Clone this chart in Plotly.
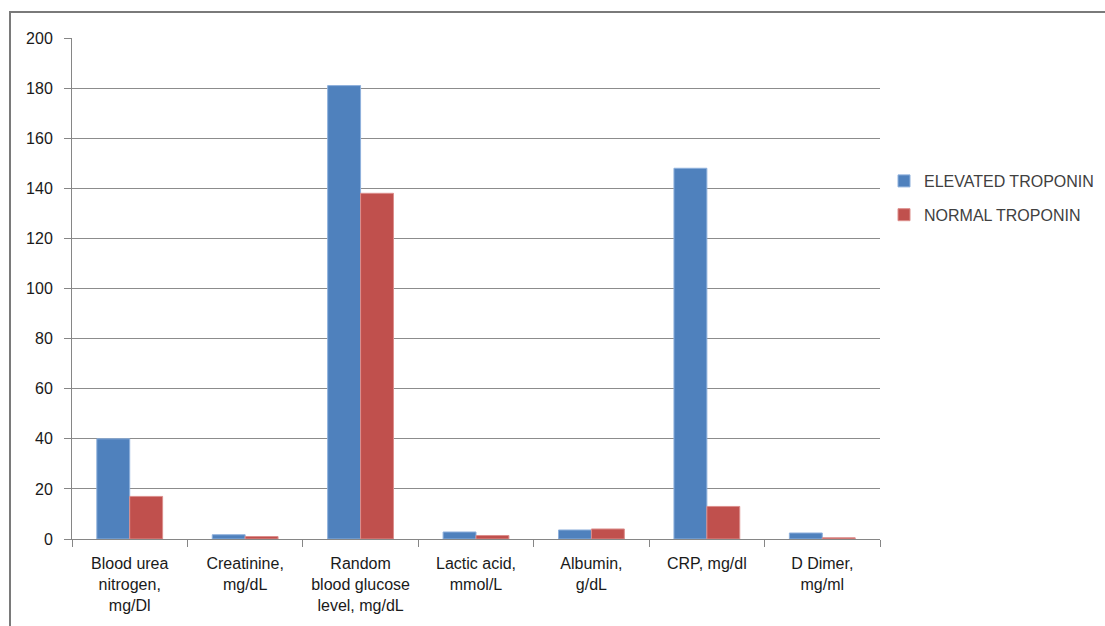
import plotly.graph_objects as go

categories = [
    "Blood urea<br>nitrogen,<br>mg/Dl",
    "Creatinine,<br>mg/dL",
    "Random<br>blood glucose<br>level, mg/dL",
    "Lactic acid,<br>mmol/L",
    "Albumin,<br>g/dL",
    "CRP, mg/dl",
    "D Dimer,<br>mg/ml",
]
elevated = [40, 1.7, 181, 2.8, 3.6, 148, 2.4]
normal = [17, 1.0, 138, 1.4, 4.0, 13, 0.5]
y_ticks = [0, 20, 40, 60, 80, 100, 120, 140, 160, 180, 200]

W, H = 1105, 626
L, R, T, B = 72, 225, 38, 87
pw, ph = W - L - R, H - T - B

fig = go.Figure()
fig.add_trace(go.Bar(
    x=categories, y=elevated, name="ELEVATED TROPONIN",
    marker=dict(color="#4F81BD", line=dict(color="#8EB0DC", width=1)),
    legendgroup="a",
))
fig.add_trace(go.Bar(
    x=categories, y=normal, name="NORMAL TROPONIN",
    marker=dict(color="#C0504D", line=dict(color="#DC8E8C", width=1)),
    legendgroup="b",
))

font = dict(family="Liberation Sans, Arial, sans-serif", size=16, color="#1a1a1a")

fig.update_layout(
    width=W, height=H,
    margin=dict(l=L, r=R, t=T, b=B, pad=0, autoexpand=False),
    paper_bgcolor="white", plot_bgcolor="white",
    barmode="group", bargap=0.43, bargroupgap=0,
    font=font,
    showlegend=True,
    legend=dict(
        x=(884 - L) / pw, y=(539 - 164) / ph, xanchor="left", yanchor="top",
        font=dict(family="Liberation Sans, Arial, sans-serif", size=16, color="#404040"),
        traceorder="grouped", tracegroupgap=10, itemwidth=30,
        bgcolor="rgba(0,0,0,0)",
    ),
    xaxis=dict(
        showgrid=False, showline=True, linecolor="#868686", linewidth=1,
        ticks="outside", ticklen=7, tickcolor="#868686",
        tickson="boundaries", tickfont=font, ticklabelstandoff=10,
    ),
    yaxis=dict(
        range=[0, 200], tickvals=y_ticks,
        showgrid=True, gridcolor="#8c8c8c", gridwidth=1,
        showline=True, linecolor="#868686", linewidth=1,
        ticks="outside", ticklen=7, tickcolor="#868686",
        tickfont=font, zeroline=False, ticklabelstandoff=8,
    ),
    shapes=[dict(
        type="rect", xref="paper", yref="paper",
        x0=(10 - L) / pw, x1=(W + 20 - L) / pw,
        y0=-(B + 20) / ph, y1=(539 - 12) / ph,
        line=dict(color="#7a7a7a", width=2), fillcolor="rgba(0,0,0,0)",
        layer="below",
    )],
)

fig.write_html("out.html")
